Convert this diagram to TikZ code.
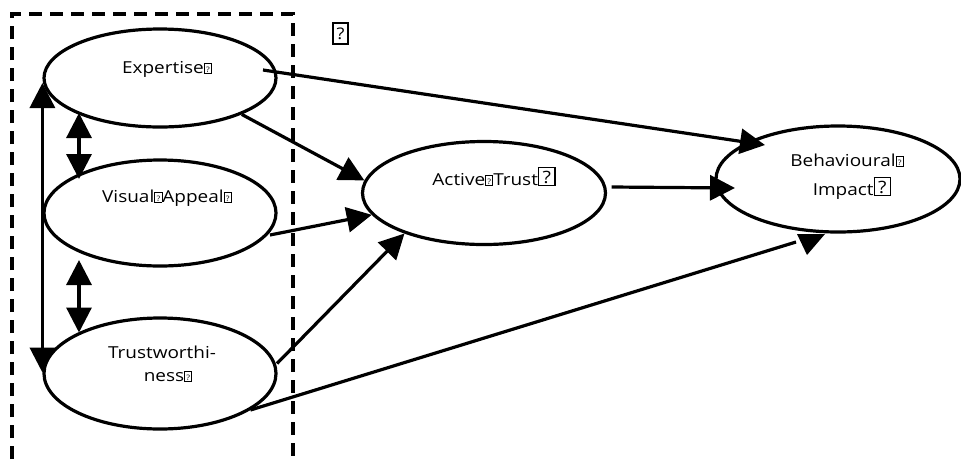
\documentclass[tikz,border=0pt]{standalone}
\usepackage{fontspec}
\setmainfont{Open Sans}[FakeStretch=1.15]
\usetikzlibrary{arrows.meta,calc,shapes.geometric}

% missing-glyph boxes as printed in the labels
\newcommand\qsm{{\setlength\fboxsep{0pt}\setlength\fboxrule{0.8pt}%
  \fbox{\makebox[6.5pt]{\rule{0pt}{9.5pt}\raisebox{1pt}{\fontsize{7.5}{7.5}\selectfont ?}}}}}
\newcommand\qbig{{\setlength\fboxsep{0pt}\setlength\fboxrule{1.3pt}%
  \fbox{\makebox[15pt]{\rule{0pt}{17pt}\raisebox{2pt}{\fontsize{17}{17}\selectfont ?}}}}}

\begin{document}
\begin{tikzpicture}[x=1pt,y=-1pt,
  ell/.style={draw, ellipse, line width=3.2pt, inner sep=0pt},
  lbl/.style={anchor=base, inner sep=0pt, font=\fontsize{16.5}{20}\selectfont, text=black},
  conn/.style={line width=3.2pt},
  tip/.style={conn, -{Triangle[length=25pt,width=25pt]}},
  dtip/.style={conn, {Triangle[length=25pt,width=25pt]}-{Triangle[length=25pt,width=25pt]}},
  frame/.style={line width=3.2pt, dash pattern=on 13pt off 8pt}]
\useasboundingbox (0,0) rectangle (961,459);

% dashed grouping frame, open at the bottom
\draw[frame] (12,459) -- (12,14) -- (293,14) -- (293,459);

% question mark box
\node[draw, line width=1.6pt, minimum width=15pt, minimum height=21pt, inner sep=0pt,
      font=\fontsize{16}{16}\selectfont] (qmark) at (340.5,33.5) {?};

% constructs
\node[ell, minimum width=232pt, minimum height=98pt]  (exp) at (160,78) {};
\node[ell, minimum width=232pt, minimum height=106pt] (vis) at (160,213) {};
\node[ell, minimum width=232pt, minimum height=111pt] (tw)  at (160,373.5) {};
\node[ell, minimum width=243pt, minimum height=103pt] (act) at (484,193) {};
\node[ell, minimum width=244pt, minimum height=106pt] (bhv) at (838,179) {};

% labels
\node[lbl] (texp)  at (167,73)  {Expertise\qsm};
\node[lbl] (tvis)  at (167,202) {Visual\qsm Appeal\qsm};
\node[lbl] (ttwa)  at (162,358) {Trustworthi-};
\node[lbl] (ttwb)  at (168,381) {ness\qsm};
\node[lbl] (tact)  at (494,185) {Active\qsm Trust\qbig};
\node[lbl] (tbh1)  at (847,166) {Behavioural\qsm};
\node[lbl] (tbh2)  at (852,195) {Impact\qbig};

% correlations between the source attributes
\draw[dtip] ([yshift=-5pt]exp.west) -- ([yshift=1pt]tw.west);
\draw[dtip] ($(exp.center)+(-81,35)$) -- ($(vis.center)+(-81,-34)$);
\draw[dtip] ($(vis.center)+(-81,47)$) -- ($(tw.center)+(-81,-41)$);

% paths to active trust
\draw[tip] (exp.336) -- (act.174);
\draw[tip] ($(vis.center)+(110,22)$) -- (act.191);
\draw[tip] ($(tw.center)+(117,-10)$) -- (act.207);

% paths to behavioural impact
\draw[tip] ($(exp.center)+(103,-8)$) -- ($(bhv.center)+(-73,-34)$);
\draw[tip] ($(act.east)+(4.5,-6)$) -- ($(bhv.center)+(-103,9)$);
\coordinate (bend) at ($(bhv.center)+(-42,63)$);
\draw[conn] (tw.338) -- (bend);
\fill ($(bhv.center)+(-41,55)$) -- ($(bhv.center)+(-13,55)$) -- ($(bhv.center)+(-31,76)$) -- cycle;
\end{tikzpicture}
\end{document}
